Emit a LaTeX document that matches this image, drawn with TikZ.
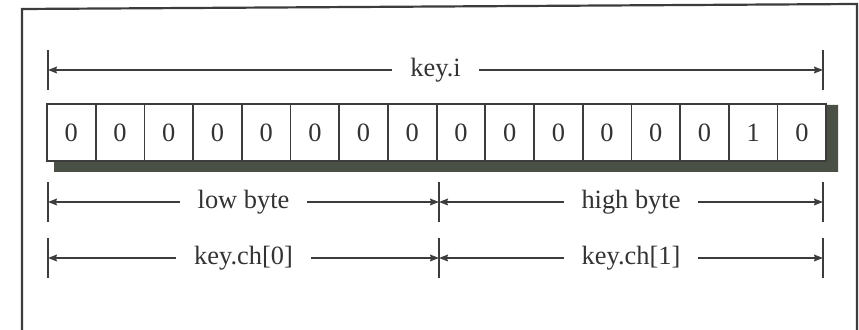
\documentclass[tikz,border=0pt]{standalone}
\usepackage{fontspec}
\setmainfont{Liberation Serif}
\usetikzlibrary{arrows.meta, positioning}
\definecolor{clrLine}{HTML}{3C3C3C}
\definecolor{clrText}{HTML}{333333}
\definecolor{clrShadow}{HTML}{4B5046}

\begin{document}
\begin{tikzpicture}[
  x=0.5pt, y=-0.5pt,
  bitcell/.style = {
    rectangle,
    draw=clrLine,
    line width=0.9pt,
    fill=white,
    minimum width=24.35pt,
    minimum height=28.5pt,
    inner sep=0pt,
    font=\fontsize{13.2pt}{15pt}\selectfont,
    text=clrText
  },
  dimline/.style = {
    {Stealth[length=4.5pt, width=3.4pt, inset=0.6pt]}-{Stealth[length=4.5pt, width=3.4pt, inset=0.6pt]},
    line width=0.8pt,
    color=clrLine
  },
  tick/.style = {
    line width=0.9pt,
    color=clrLine
  },
  dimlabel/.style = {
    fill=white,
    inner xsep=9pt,
    inner ysep=1pt,
    font=\fontsize{13.2pt}{15pt}\selectfont,
    text=clrText
  },
  every node/.style={outer sep=0pt}
]
\useasboundingbox (0,0) rectangle (859,330);

% ── frame ────────────────────────────────────────────────────────────────────
\draw[line width=1.1pt, color=clrLine] (22,330) -- (22,9) -- (857,4) -- (857,330);

% ── shadow under the word ────────────────────────────────────────────────────
\fill[clrShadow] (54,161) -- (826,161) -- (826,105) -- (838,105)
  -- (838,172) -- (54,172) -- cycle;

% ── bit cells ────────────────────────────────────────────────────────────────
\foreach \b [count=\i] in {0,0,0,0,0,0,0,0,0,0,0,0,0,0,1,0}
  \node[bitcell] (c\i) at ({47+48.7*(\i-0.5)},132.5) {\b};

% ── tick marks ───────────────────────────────────────────────────────────────
\coordinate (kl) at (48,70);
\coordinate (kr) at (823,70);
\coordinate (bl) at (48,202);
\coordinate (bm) at (439,202);
\coordinate (br) at (823,202);
\coordinate (hl) at (48,258);
\coordinate (hm) at (439,258);
\coordinate (hr) at (823,258);

\foreach \t in {kl,kr,bl,bm,br,hl,hm,hr}
  \draw[tick] (\t) ++(0,-20) -- ++(0,40);

% ── dimension lines ──────────────────────────────────────────────────────────
\draw[dimline] (kl) -- node[dimlabel] (ki) {key.i} (kr);
\draw[dimline] (bl) -- node[dimlabel] (lo) {low byte} (bm);
\draw[dimline] (bm) -- node[dimlabel] (hi) {high byte} (br);
\draw[dimline] (hl) -- node[dimlabel] (c0) {key.ch[0]} (hm);
\draw[dimline] (hm) -- node[dimlabel] (c1) {key.ch[1]} (hr);

\end{tikzpicture}
\end{document}
